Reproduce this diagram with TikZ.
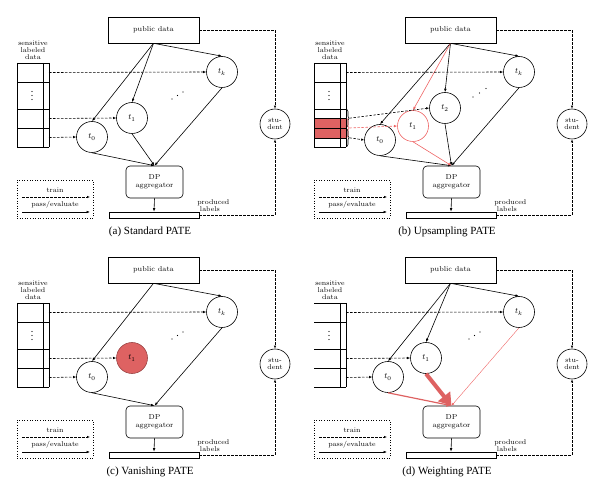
\documentclass[tikz,border=0pt]{standalone}
\usepackage{fontspec}
\newfontfamily\capfont{Liberation Serif}
\usetikzlibrary{arrows.meta,decorations.pathreplacing,calc}
\definecolor{pred}{RGB}{222,98,98}
\definecolor{plred}{RGB}{238,100,100}
\tikzset{
  txt/.style={font=\fontsize{7}{7}\selectfont, inner sep=0pt, align=center},
  pubbox/.style={draw, minimum width=91pt, minimum height=26pt, inner sep=0pt, font=\fontsize{7.2}{7}\selectfont},
  aggbox/.style={draw, rounded corners=4pt, minimum width=57pt, minimum height=32pt, inner sep=0pt, align=center, font=\fontsize{7.2}{8}\selectfont},
  labelbar/.style={draw, minimum width=90pt, minimum height=6pt, inner sep=0pt},
  teacher/.style={draw, circle, minimum size=31pt, inner sep=0pt, font=\fontsize{8}{8}\selectfont},
  stud/.style={draw, circle, minimum size=30pt, inner sep=0pt, align=center, font=\fontsize{7}{7}\selectfont},
  legbox/.style={draw, dotted, minimum width=76pt, minimum height=38pt, inner sep=0pt},
  dotn/.style={fill, circle, minimum size=1.3pt, inner sep=0pt},
  trainarr/.style={dash pattern=on 2.5pt off 1.5pt, -{Latex[open,length=3pt,width=2.6pt]}},
  passarr/.style={-{Latex[length=3.5pt,width=2.6pt]}},
  capt/.style={font=\capfont\fontsize{11}{13}\selectfont, inner sep=0pt},
}
\newcommand\panelcommon[2]{%
  \node[pubbox] (#1pub) at (153.5,30) {public data};
  \node[txt] (#1sens) at (33,50) {sensitive\\labeled\\data};
  \node[teacher] (#1tk) at (222,72) {$t_k$};
  \node[stud] (#1stu) at (275,124) {stu-\\dent};
  \node[aggbox] (#1agg) at (154.5,182) {DP\\aggregator};
  \node[labelbar] (#1bar) at (154,215) {};
  \node[txt, align=left, anchor=west] (#1prod) at (197,206) {produced\\\ labels};
  \node[legbox] (#1leg) at (55,199) {};
  \node[txt] (#1train) at (55,190) {train};
  \node[txt] (#1pass) at (55,205) {pass/evaluate};
  \coordinate (#1la) at (22,197); \coordinate (#1lb) at (90,197);
  \coordinate (#1lc) at (22,212); \coordinate (#1ld) at (90,212);
  \draw[trainarr] (#1la) -- (#1lb);
  \draw[passarr] (#1lc) -- (#1ld);
  \node[capt] (#1cap) at (150,232) {#2};
  \draw[trainarr] (#1pub.east) -| (#1stu.north);
  \draw[trainarr] (#1bar.east) -| (#1stu.south);
  \draw[passarr] (#1agg.south) -- (#1bar.north);
  \draw[passarr] (#1pub.south) -- (#1tk.north);
  \coordinate (#1r1) at (49,72.5);
  \coordinate (#1r3) at (49,118.5);
  \coordinate (#1r4) at (49,137.5);
  \node[dotn, minimum size=1.1pt] (#1v1) at (32,91.5) {};
  \node[dotn, minimum size=1.1pt] (#1v2) at (32,95.5) {};
  \node[dotn, minimum size=1.1pt] (#1v3) at (32,99.5) {};
}
\newcommand\tablegrid{%
  \draw (17,63) -- (49,63) (17,82) -- (49,82) (17,109) -- (49,109) (17,128) -- (49,128) (17,147) -- (49,147);
  \draw (43,63) -- (43,147) (49,63) -- (49,147);
}
\begin{document}
\begin{tikzpicture}[x=1pt,y=-1pt,line width=0.6pt]
\useasboundingbox (0,0) rectangle (598,481);
%% (a)
\begin{scope}
\panelcommon{a}{(a) Standard PATE}
\tablegrid
\draw (17,63) -- (17,147);
\node[dotn] (ad1) at (172,99) {}; \node[dotn] (ad2) at (177.5,95.5) {}; \node[dotn] (ad3) at (183,92) {};
\node[teacher] (at1) at (132,118) {$t_1$};
\node[teacher] (at0) at (92,137) {$t_0$};
\draw[passarr] (apub.south) -- (at0.north);
\draw[passarr] (apub.south) -- (at1.north);
\draw[trainarr] (ar1) -- (atk.west);
\draw[trainarr] (ar3) -- (at1.west);
\draw[trainarr] (ar4) -- (at0.west);
\draw[passarr] (at0.south) -- (aagg.north);
\draw[passarr] (at1.south) -- (aagg.north);
\draw[passarr] (atk.south) -- (aagg.north);
\end{scope}
%% (b)
\begin{scope}[shift={(297,0)}]
\fill[pred] (17,118) rectangle (49,138);
\panelcommon{b}{(b) Upsampling PATE}
\tablegrid
\draw (17,63) -- (17,147) (17,118) -- (49,118) (17,138) -- (49,138);
\draw[decorate, decoration={brace, amplitude=2pt}] (50,109.5) -- (50,127);
\draw[plred, decorate, decoration={brace, amplitude=2pt}] (50,118.5) -- (50,137.5);
\draw[decorate, decoration={brace, amplitude=2pt}] (50,129) -- (50,146.5);
\coordinate (bbr1) at (52.5,118.2);
\coordinate (bbr2) at (52.5,128);
\coordinate (bbr3) at (52.5,137.8);
\node[dotn] (bd1) at (176,97) {}; \node[dotn] (bd2) at (182.5,93) {}; \node[dotn] (bd3) at (189,88.5) {};
\node[teacher] (bt2) at (148,108) {$t_2$};
\node[teacher, draw=plred] (bt1) at (116,126) {$t_1$};
\node[teacher] (bt0) at (83,140) {$t_0$};
\draw[passarr] (bpub.south) -- (bt0.north);
\draw[passarr, plred] (bpub.south) -- (bt1.north);
\draw[passarr] (bpub.south) -- (bt2.north);
\draw[trainarr] (br1) -- (btk.west);
\draw[trainarr] (bbr1) -- (bt2.west);
\draw[trainarr, plred] (bbr2) -- (bt1.west);
\draw[trainarr] (bbr3) -- (bt0.west);
\draw[passarr] (bt0.south) -- (bagg.north);
\draw[passarr, plred] (bt1.south) -- (bagg.north);
\draw[passarr] (bt2.south) -- (bagg.north);
\draw[passarr] (btk.south) -- (bagg.north);
\end{scope}
%% (c)
\begin{scope}[shift={(0,240)}]
\panelcommon{c}{(c) Vanishing PATE}
\tablegrid
\draw (17,63) -- (17,147);
\node[dotn] (cd1) at (172,99) {}; \node[dotn] (cd2) at (177.5,95.5) {}; \node[dotn] (cd3) at (183,92) {};
\node[teacher, fill=pred, draw=pred!70!black] (ct1) at (132,118) {$t_1$};
\node[teacher] (ct0) at (92,137) {$t_0$};
\draw[passarr] (cpub.south) -- (ct0.north);
\draw[trainarr] (cr1) -- (ctk.west);
\draw[trainarr] (cr3) -- (ct1.west);
\draw[trainarr] (cr4) -- (ct0.west);
\draw[passarr] (ct0.south) -- (cagg.north);
\draw[passarr] (ctk.south) -- (cagg.north);
\end{scope}
%% (d)
\begin{scope}[shift={(297,240)}]
\panelcommon{d}{(d) Weighting PATE}
\tablegrid
\node[dotn] (dd1) at (172,99) {}; \node[dotn] (dd2) at (177.5,95.5) {}; \node[dotn] (dd3) at (183,92) {};
\node[teacher] (dt1) at (129,118) {$t_1$};
\node[teacher] (dt0) at (91,137) {$t_0$};
\draw[passarr] (dpub.south) -- (dt0.north);
\draw[passarr] (dpub.south) -- (dt1.north);
\draw[trainarr] (dr1) -- (dtk.west);
\draw[trainarr] (dr3) -- (dt1.west);
\draw[trainarr] (dr4) -- (dt0.west);
\draw[pred, line width=1.2pt, -{Latex[length=5pt,width=4.5pt]}] (dt0.south) -- (dagg.north);
\draw[pred, line width=4pt, -{Triangle[length=12pt,width=15pt]}] (dt1.south) -- (dagg.north);
\draw[plred, line width=0.4pt, -{Latex[length=3pt,width=2.4pt]}] (dtk.south) -- (dagg.north);
\end{scope}
\end{tikzpicture}
\end{document}
